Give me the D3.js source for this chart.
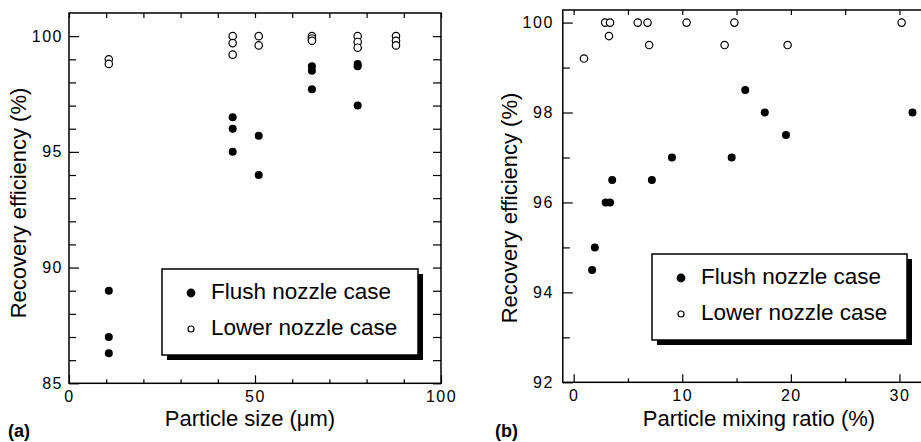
<!DOCTYPE html>
<html>
<head>
<meta charset="utf-8">
<script src="https://cdn.jsdelivr.net/npm/d3@7"></script>
<style>
  body { margin: 0; background: #fff; }
  svg { display: block; font-family: "Liberation Sans", Arial, sans-serif; }
  .tick text { font-size: 16px; letter-spacing: 1.5px; fill: #000; }
  .tick line { stroke: #000; stroke-width: 1.2; }
</style>
</head>
<body>
<div class="container"></div>
<script>
// (a) recovery efficiency vs particle size [size um, efficiency %]
const sizeFlush = [
  [10.7, 89.0], [10.7, 87.0], [10.7, 86.3],
  [44, 96.5], [44, 96.0], [44, 95.0],
  [51, 95.7], [51, 94.0],
  [65.3, 98.7], [65.3, 98.5], [65.3, 97.7],
  [77.6, 98.8], [77.6, 98.7], [77.6, 97.0]
];
const sizeLower = [
  [10.7, 99.0], [10.7, 98.8],
  [44, 100], [44, 99.7], [44, 99.2],
  [51, 100], [51, 99.6],
  [65.3, 100], [65.3, 99.9], [65.3, 99.8],
  [77.6, 100], [77.6, 99.75], [77.6, 99.5],
  [87.9, 100], [87.9, 99.8], [87.9, 99.6]
];
// (b) recovery efficiency vs particle mixing ratio [ratio %, efficiency %]
const ratioFlush = [
  [1.7, 94.5], [1.95, 95.0], [2.95, 96.0], [3.35, 96.0], [3.55, 96.5],
  [7.2, 96.5], [9.05, 97.0], [14.55, 97.0], [15.8, 98.5], [17.6, 98.0],
  [19.55, 97.5], [31.2, 98.0]
];
const ratioLower = [
  [0.95, 99.2], [2.9, 100], [3.35, 100], [3.25, 99.7], [5.9, 100], [6.8, 100],
  [6.95, 99.5], [10.4, 100], [13.9, 99.5], [14.8, 100], [19.7, 99.5], [30.2, 100]
];
const legendLabels = ["Flush nozzle case", "Lower nozzle case"];

const svg = d3.select(".container")
  .append("svg")
  .attr("width", 921)
  .attr("height", 442);

function panel(opt) {
  const x = d3.scaleLinear().domain(opt.xDomain).range(opt.xRange);
  const y = d3.scaleLinear().domain(opt.yDomain).range(opt.yRange);
  const g = svg.append("g");
  const [x0, x1] = opt.xRange, [y1, y0] = opt.yRange;

  // minor ticks (bottom, top, left, right), all pointing inward
  g.append("g").attr("transform", `translate(0,${y1})`)
    .call(d3.axisBottom(x).tickValues(opt.xMinor).tickSize(-4).tickFormat(""));
  g.append("g").attr("transform", `translate(0,${y0})`)
    .call(d3.axisTop(x).tickValues(opt.xMinor.concat(opt.xMajor)).tickSize(-5).tickFormat(""));
  g.append("g").attr("transform", `translate(${x0},0)`)
    .call(d3.axisLeft(y).tickValues(opt.yMinor).tickSize(-7).tickFormat(""));
  g.append("g").attr("transform", `translate(${x1},0)`)
    .call(d3.axisRight(y).tickValues(opt.yMinor.concat(opt.yMajor)).tickSize(-8).tickFormat(""));

  // major ticks with labels
  g.append("g").attr("transform", `translate(0,${y1})`)
    .call(d3.axisBottom(x).tickValues(opt.xMajor).tickSize(-8).tickPadding(7).tickFormat(d3.format("d")));
  g.append("g").attr("transform", `translate(${x0},0)`)
    .call(d3.axisLeft(y).tickValues(opt.yMajor).tickSize(-10).tickPadding(opt.yPad).tickFormat(d3.format("d")));
  g.selectAll(".domain").remove();

  g.append("rect")
    .attr("x", x0).attr("y", y0)
    .attr("width", x1 - x0).attr("height", y1 - y0)
    .attr("fill", "none").attr("stroke", "#000").attr("stroke-width", 1.5);

  g.append("g").selectAll("circle")
    .data(opt.lower)
    .join("circle")
    .attr("cx", d => x(d[0])).attr("cy", d => y(d[1])).attr("r", 3.7)
    .attr("fill", "#fff").attr("stroke", "#000").attr("stroke-width", 1.2);
  g.append("g").selectAll("circle")
    .data(opt.flush)
    .join("circle")
    .attr("cx", d => x(d[0])).attr("cy", d => y(d[1])).attr("r", 4)
    .attr("fill", "#000");

  // legend box with drop shadow
  const L = opt.legend;
  g.append("rect").attr("x", L.x + 5).attr("y", L.y + 5).attr("width", L.w).attr("height", L.h).attr("fill", "#000");
  g.append("rect").attr("x", L.x).attr("y", L.y).attr("width", L.w).attr("height", L.h)
    .attr("fill", "#fff").attr("stroke", "#000").attr("stroke-width", 1.5);
  legendLabels.forEach((t, i) => {
    const ly = L.y + 30 + i * 36;
    g.append("circle").attr("cx", L.x + 29).attr("cy", ly - 6).attr("r", i ? 3 : 3.8)
      .attr("fill", i ? "#fff" : "#000").attr("stroke", "#000").attr("stroke-width", 1.2);
    g.append("text").attr("x", L.x + 49).attr("y", ly)
      .attr("font-size", 22.5).text(t);
  });

  g.append("text")
    .attr("x", opt.xTitleX).attr("y", 426)
    .attr("text-anchor", "middle").attr("font-size", 22)
    .text(opt.xTitle);
  g.append("text")
    .attr("transform", `translate(${opt.yTitleX},${opt.yTitleY}) rotate(-90)`)
    .attr("text-anchor", "middle").attr("font-size", 22)
    .text("Recovery efficiency (%)");
  g.append("text")
    .attr("x", opt.tag[0]).attr("y", 437)
    .attr("font-size", 18).attr("font-weight", "bold")
    .text(opt.tag[1]);
}

panel({
  xDomain: [0, 100], xRange: [69, 441],
  yDomain: [85, 101], yRange: [383.3, 13],
  xMajor: [0, 50, 100], xMinor: d3.range(10, 100, 10).filter(v => v !== 50),
  yMajor: [85, 90, 95, 100], yMinor: d3.range(86, 101).filter(v => v % 5),
  yPad: 6,
  flush: sizeFlush, lower: sizeLower,
  legend: { x: 162, y: 269, w: 256, h: 86 },
  xTitle: "Particle size (\u03bcm)", xTitleX: 250,
  yTitleX: 26, yTitleY: 203,
  tag: [8, "(a)"]
});

panel({
  xDomain: [-1, 35.5], xRange: [562.8, 562.8 + 36.5 * 10.86],
  yDomain: [92, 100.28], yRange: [382.3, 10],
  xMajor: [0, 10, 20, 30], xMinor: [5, 15, 25, 35],
  yMajor: [92, 94, 96, 98, 100], yMinor: [93, 95, 97, 99],
  yPad: 9,
  flush: ratioFlush, lower: ratioLower,
  legend: { x: 652, y: 254, w: 255, h: 86 },
  xTitle: "Particle mixing ratio (%)", xTitleX: 759,
  yTitleX: 517, yTitleY: 208,
  tag: [495, "(b)"]
});
</script>
</body>
</html>
